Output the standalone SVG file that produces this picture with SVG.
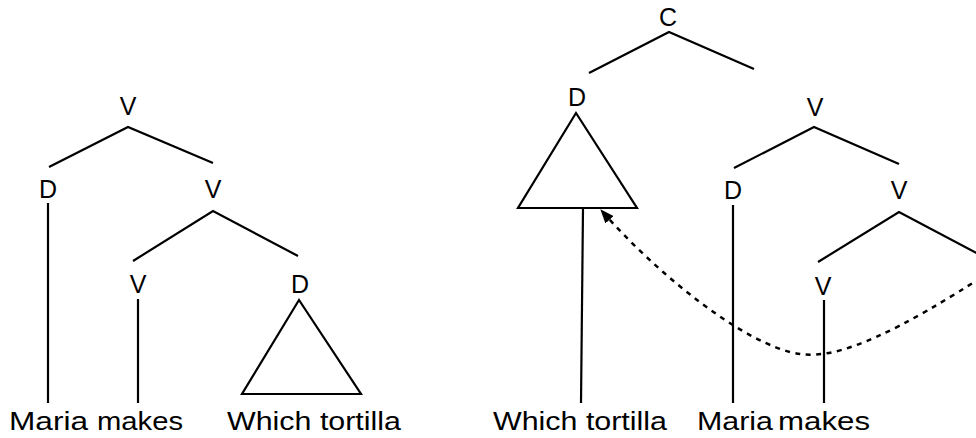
<svg xmlns="http://www.w3.org/2000/svg" width="976" height="438" viewBox="0 0 976 438">
<style>
text{font-family:"Liberation Sans",Arial,Helvetica,sans-serif;fill:#000}
.lab{font-size:25px;text-anchor:middle}
.word{font-size:26px}
.ln{stroke:#000;stroke-width:2.2;fill:none;stroke-linecap:butt}
.tri{stroke:#000;stroke-width:2.2;fill:#fff;stroke-linejoin:miter}
.mv{stroke:#000;stroke-width:2.5;fill:none;stroke-dasharray:5 5.5}
</style>
<defs>
<marker id="ah" viewBox="0 0 14 11" refX="13" refY="5.5" markerWidth="14" markerHeight="11" markerUnits="userSpaceOnUse" orient="auto">
<path d="M0,0 L14,5.5 L0,11 z" fill="#000"/>
</marker>
</defs>
<rect width="976" height="438" fill="#fff"/>
<g id="connectors">
<path class="ln" d="M49,167 L128,127 L213,163"/>
<line class="ln" x1="48" y1="203" x2="48" y2="403"/>
<path class="ln" d="M133,261 L213,211 L298,256"/>
<line class="ln" x1="138" y1="299" x2="138" y2="403"/>
<path class="ln" d="M589,73 L669,32 L754,69"/>
<line class="ln" x1="583" y1="208" x2="581" y2="403"/>
<path class="ln" d="M734,168 L814,127 L899,164"/>
<line class="ln" x1="733" y1="205" x2="733" y2="403"/>
<path class="ln" d="M818,262 L899,212 L984,257"/>
<line class="ln" x1="824" y1="300" x2="824" y2="403"/>
<path class="mv" d="M990,272 C900,330 840,360 800,354 C745,346 655,272 601,210" marker-end="url(#ah)"/>
</g>
<g id="left-V-root"><text class="lab" x="128" y="115">V</text></g>
<g id="left-D-subj"><text class="lab" x="48" y="198">D</text></g>
<g id="left-V-bar"><text class="lab" x="213" y="198">V</text></g>
<g id="left-V-head"><text class="lab" x="138" y="293">V</text></g>
<g id="left-D-obj"><text class="lab" x="300" y="293">D</text><polygon class="tri" points="299,300 242,394 361,394"/></g>
<g id="left-words">
<text class="word" x="9" y="430" textLength="79" lengthAdjust="spacingAndGlyphs">Maria</text>
<text class="word" x="97" y="430" textLength="86" lengthAdjust="spacingAndGlyphs">makes</text>
<text class="word" x="227" y="430" textLength="174" lengthAdjust="spacingAndGlyphs">Which tortilla</text>
</g>
<g id="right-C-root"><text class="lab" x="668" y="26">C</text></g>
<g id="right-D-wh"><text class="lab" x="577" y="106">D</text><polygon class="tri" points="576,113 518,208 637,208"/></g>
<g id="right-V-top"><text class="lab" x="815" y="116">V</text></g>
<g id="right-D-subj"><text class="lab" x="733" y="199">D</text></g>
<g id="right-V-bar"><text class="lab" x="899" y="199">V</text></g>
<g id="right-V-head"><text class="lab" x="823" y="295">V</text></g>
<g id="right-words">
<text class="word" x="493" y="430" textLength="174" lengthAdjust="spacingAndGlyphs">Which tortilla</text>
<text class="word" x="697" y="430" textLength="76" lengthAdjust="spacingAndGlyphs">Maria</text>
<text class="word" x="778" y="430" textLength="92" lengthAdjust="spacingAndGlyphs">makes</text>
</g>
</svg>
